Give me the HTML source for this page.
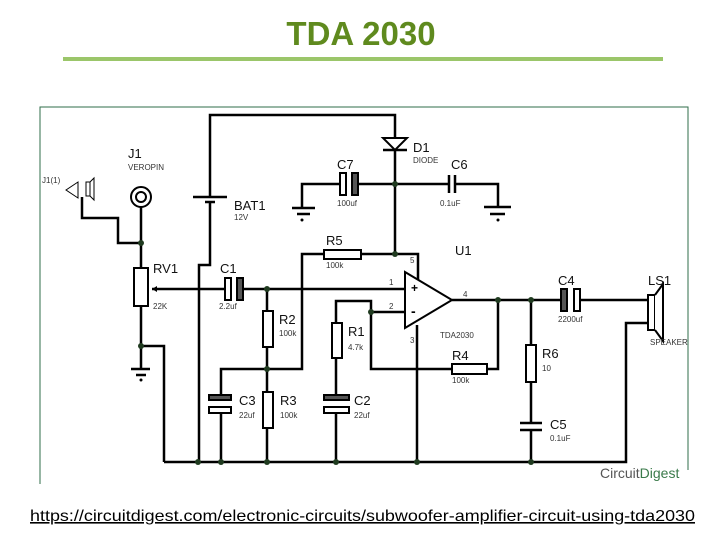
<!DOCTYPE html>
<html><head><meta charset="utf-8"><style>
html,body{margin:0;padding:0;background:#fff;width:720px;height:540px;overflow:hidden}
svg{display:block}
</style></head><body>
<svg width="720" height="540" xmlns="http://www.w3.org/2000/svg" font-family="Liberation Sans, sans-serif">
<text x="361" y="45" text-anchor="middle" font-size="33" font-weight="bold" fill="#5f8a1e">TDA 2030</text>
<rect x="63" y="57" width="600" height="4" fill="#9bc66a"/>
<path d="M40 484 V107 H688 V470" fill="none" stroke="#2f6e4a" stroke-width="1"/>
<g stroke="#000" stroke-width="2.5" fill="none">
<path d="M210 197 V115 H395 V138"/>
<path d="M395 150 V254"/>
<path d="M302 208 V184 H340 M358 184 H449 M455 184 H498 V207"/>
<path d="M292 208 H315 M297 214 H310 M484 207 H511 M490 214 H505"/>
<path d="M193 197 H227"/>
<path d="M205 202 H215 M210 202 V265 H199 V462"/>
<path d="M82 197 V218 H118 V243 H141"/>
<path d="M141 207 V268 M141 306 V346 H164 V462 M141 346 V369"/>
<path d="M131 369 H150 M136 375 H146"/>
<path d="M152 289 H225 M243 289 H405"/>
<path d="M267 289 V311 M267 347 V392 M267 428 V462"/>
<path d="M221 462 V414 M221 397 V369 H302 V254 H324 M361 254 H418 V280"/>
<path d="M336 462 V410 M336 397 V358 M336 323 V301 H371 V369 H452 M371 312 H405 M487 369 H498 V300"/>
<path d="M417 325 V462"/>
<path d="M164 462 H626 V323 H648"/>
<path d="M452 300 H561 M581 300 H648"/>
<path d="M531 300 V345 M531 382 V423 M531 430 V462"/>
<path d="M520 423 H542 M520 430 H542"/>
<path d="M405 272 L452 300 L405 328 Z" stroke-width="2"/>
<path d="M324 410 H349 M209 410 H231"/>
</g>
<g fill="#fff" stroke="#000" stroke-width="2">
<circle cx="141" cy="197" r="10"/><circle cx="141" cy="197" r="5"/>
<rect x="134" y="268" width="14" height="38"/>
<rect x="324" y="250" width="37" height="9"/>
<rect x="263" y="311" width="10" height="36"/>
<rect x="263" y="392" width="10" height="36"/>
<rect x="332" y="323" width="10" height="35"/>
<rect x="452" y="364" width="35" height="10"/>
<rect x="526" y="345" width="10" height="37"/>
<rect x="340" y="173" width="6" height="22"/>
<rect x="352" y="173" width="6" height="22" fill="#555"/>
<rect x="225" y="278" width="6" height="22"/>
<rect x="237" y="278" width="6" height="22" fill="#555"/>
<rect x="561" y="289" width="6" height="22" fill="#555"/>
<rect x="574" y="289" width="6" height="22"/>
<rect x="209" y="395" width="22" height="5" fill="#555"/>
<rect x="209" y="407" width="22" height="6"/>
<rect x="324" y="395" width="25" height="5" fill="#555"/>
<rect x="324" y="407" width="25" height="6"/>
<rect x="648" y="295" width="7" height="35"/>
<path d="M655 295 L663 284 V341 L655 330" />
<path d="M383 138 H407 L395 150 Z"/>
</g>
<path d="M383 150 H407 M449 175 V193 M455 175 V193" stroke="#000" stroke-width="2.5"/>
<path d="M66 190 L78 182 L78 198 Z M86 182 h4 v14 h-4z M90 182 l4 -4 v22 l-4 -4" fill="none" stroke="#000" stroke-width="1"/>
<g fill="#000">
<circle cx="302" cy="220" r="1.5"/><circle cx="498" cy="220" r="1.5"/><circle cx="141" cy="380" r="1.5"/>
<g fill="#1f3a1f">
<circle cx="395" cy="184" r="3"/><circle cx="395" cy="254" r="3"/><circle cx="141" cy="243" r="3"/>
<circle cx="141" cy="346" r="3"/><circle cx="267" cy="289" r="3"/><circle cx="267" cy="369" r="3"/>
<circle cx="371" cy="312" r="3"/><circle cx="498" cy="300" r="3"/><circle cx="531" cy="300" r="3"/>
<circle cx="198" cy="462" r="3"/><circle cx="221" cy="462" r="3"/><circle cx="267" cy="462" r="3"/>
<circle cx="336" cy="462" r="3"/><circle cx="417" cy="462" r="3"/><circle cx="531" cy="462" r="3"/>
</g>
<path d="M152 289 l5 -3 v6 z"/>
</g>
<g font-size="13" fill="#111">
<text x="128" y="158">J1</text><text x="234" y="210">BAT1</text><text x="337" y="169">C7</text>
<text x="413" y="152">D1</text><text x="451" y="169">C6</text><text x="326" y="245">R5</text>
<text x="455" y="255">U1</text><text x="153" y="273">RV1</text><text x="220" y="273">C1</text>
<text x="558" y="285">C4</text><text x="648" y="285">LS1</text><text x="279" y="324">R2</text>
<text x="348" y="336">R1</text><text x="452" y="360">R4</text><text x="542" y="358">R6</text>
<text x="239" y="405">C3</text><text x="280" y="405">R3</text><text x="354" y="405">C2</text>
<text x="550" y="429">C5</text>
</g>
<g font-size="8" fill="#333">
<text x="128" y="170">VEROPIN</text><text x="42" y="183">J1(1)</text><text x="234" y="220">12V</text>
<text x="337" y="206">100uf</text><text x="413" y="163">DIODE</text><text x="440" y="206">0.1uF</text>
<text x="326" y="268">100k</text><text x="153" y="309">22K</text><text x="219" y="309">2.2uf</text>
<text x="279" y="336">100k</text><text x="348" y="350">4.7k</text><text x="452" y="383">100k</text>
<text x="542" y="371">10</text><text x="239" y="418">22uf</text><text x="280" y="418">100k</text>
<text x="354" y="418">22uf</text><text x="550" y="441">0.1uF</text><text x="558" y="322">2200uf</text>
<text x="650" y="345">SPEAKER</text><text x="440" y="338">TDA2030</text>
<text x="389" y="285">1</text><text x="389" y="309">2</text><text x="463" y="297">4</text>
<text x="410" y="263">5</text><text x="410" y="343">3</text>
</g>
<text x="411" y="292" font-size="12" font-weight="bold">+</text>
<text x="411" y="316" font-size="14" font-weight="bold">-</text>
<text x="600" y="478" font-size="14" fill="#555">Circuit<tspan fill="#3a7a4a">Digest</tspan></text>
<text x="30" y="521" font-size="16" fill="#000" text-decoration="underline" textLength="665" lengthAdjust="spacingAndGlyphs">https://circuitdigest.com/electronic-circuits/subwoofer-amplifier-circuit-using-tda2030</text>
</svg>
</body></html>
